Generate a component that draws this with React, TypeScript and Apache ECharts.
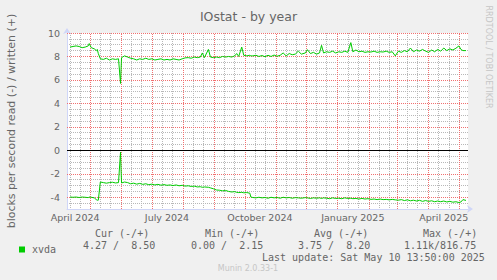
import React, { useEffect, useRef } from 'react';
import * as echarts from 'echarts';

// ---- data ----
const axisStart = '2024-04-08';
const axisEnd = '2025-05-10';

const sampleDates = [
  '2024-04-11', '2024-04-14', '2024-04-17', '2024-04-20', '2024-04-23', '2024-04-26', '2024-04-29', '2024-04-30',
  '2024-05-02', '2024-05-05', '2024-05-07', '2024-05-08', '2024-05-09', '2024-05-11', '2024-05-14', '2024-05-17',
  '2024-05-20', '2024-05-23', '2024-05-26', '2024-05-29', '2024-05-31', '2024-06-01', '2024-06-04', '2024-06-07',
  '2024-06-10', '2024-06-13', '2024-06-16', '2024-06-19', '2024-06-22', '2024-06-25', '2024-06-28', '2024-07-01',
  '2024-07-04', '2024-07-07', '2024-07-10', '2024-07-13', '2024-07-16', '2024-07-19', '2024-07-22', '2024-07-25',
  '2024-07-28', '2024-07-31', '2024-08-03', '2024-08-06', '2024-08-09', '2024-08-12', '2024-08-15', '2024-08-18',
  '2024-08-20', '2024-08-22', '2024-08-26', '2024-08-28', '2024-08-31', '2024-09-03', '2024-09-06', '2024-09-09',
  '2024-09-12', '2024-09-15', '2024-09-18', '2024-09-21', '2024-09-23', '2024-09-25', '2024-09-28', '2024-09-30',
  '2024-10-03', '2024-10-06', '2024-10-07', '2024-10-09', '2024-10-12', '2024-10-15', '2024-10-18', '2024-10-21',
  '2024-10-24', '2024-10-27', '2024-10-30', '2024-11-02', '2024-11-05', '2024-11-08', '2024-11-11', '2024-11-14',
  '2024-11-17', '2024-11-20', '2024-11-23', '2024-11-26', '2024-11-30', '2024-12-02', '2024-12-05', '2024-12-08',
  '2024-12-11', '2024-12-14', '2024-12-16', '2024-12-18', '2024-12-21', '2024-12-24', '2024-12-27', '2024-12-30',
  '2025-01-02', '2025-01-05', '2025-01-08', '2025-01-11', '2025-01-14', '2025-01-16', '2025-01-19', '2025-01-22',
  '2025-01-25', '2025-01-28', '2025-01-31', '2025-02-03', '2025-02-06', '2025-02-09', '2025-02-12', '2025-02-15',
  '2025-02-18', '2025-02-21', '2025-02-24', '2025-02-27', '2025-03-02', '2025-03-05', '2025-03-08', '2025-03-11',
  '2025-03-14', '2025-03-17', '2025-03-20', '2025-03-23', '2025-03-26', '2025-03-29', '2025-04-01', '2025-04-04',
  '2025-04-07', '2025-04-10', '2025-04-13', '2025-04-16', '2025-04-19', '2025-04-22', '2025-04-25', '2025-04-28',
  '2025-05-01', '2025-05-03', '2025-05-05', '2025-05-08',
];

// blocks per second written (+)
const writtenValues = [
  8.8, 8.85, 8.9, 8.85, 8.75, 8.8, 8.9, 9.1,
  8.75, 8.65, 8.5, 8.6, 8.25, 7.8, 7.75, 7.85,
  7.7, 7.8, 7.75, 7.8, 5.7, 7.9, 8.05, 7.95,
  7.85, 7.8, 7.7, 7.8, 7.75, 7.85, 7.75, 7.8,
  7.7, 7.75, 7.8, 7.7, 7.75, 7.7, 7.8, 7.75,
  7.7, 7.8, 7.88, 7.9, 7.85, 7.95, 7.9, 7.95,
  8.3, 7.9, 8.6, 7.95, 7.9, 7.95, 7.9, 8.0,
  7.95, 8.0, 7.95, 8.05, 8.25, 8.0, 8.8, 8.1,
  8.05, 8.1, 8.05, 8.05, 8.1, 8.0, 8.08, 7.98,
  8.1, 8.0, 8.12, 8.02, 8.1, 8.3, 8.05, 8.25,
  8.15, 8.2, 8.45, 8.2, 8.3, 8.58, 8.25, 8.35,
  8.2, 8.3, 8.95, 8.3, 8.4, 8.35, 8.45, 8.3,
  8.4, 8.35, 8.45, 8.35, 9.18, 8.4, 8.55, 8.4,
  8.45, 8.35, 8.4, 8.38, 8.45, 8.35, 8.4, 8.38,
  8.45, 8.35, 8.4, 8.05, 8.45, 8.35, 8.5, 8.4,
  8.72, 8.4, 8.55, 8.45, 8.6, 8.45, 8.35, 8.55,
  8.4, 8.6, 8.45, 8.72, 8.5, 8.65, 8.55, 8.7,
  8.9, 8.6, 8.5, 8.5,
];

// blocks per second read (-), drawn below zero
const readValues = [
  3.98, 4.0, 3.98, 4.02, 3.98, 4.0, 4.03, 3.98,
  4.0, 4.05, 4.2, 4.25, 4.25, 2.7, 2.75, 2.8,
  2.75, 2.72, 2.78, 2.75, 0.15, 2.78, 2.7, 2.75,
  2.85, 2.8, 2.88, 2.82, 2.9, 2.85, 2.93, 2.88,
  2.95, 2.9, 2.97, 2.92, 2.98, 2.95, 3.0, 2.95,
  3.02, 2.98, 3.05, 3.02, 3.08, 3.05, 3.12, 3.1,
  3.15, 3.12, 3.15, 3.2, 3.28, 3.38, 3.4, 3.45,
  3.42, 3.5, 3.55, 3.52, 3.58, 3.6, 3.58, 3.62,
  3.6, 3.65, 3.98, 4.02, 4.05, 4.0, 4.05, 4.02,
  4.08, 4.0, 4.05, 4.02, 4.08, 4.0, 4.05, 4.02,
  4.08, 4.03, 4.05, 4.08, 4.03, 4.05, 4.1, 4.05,
  4.08, 4.05, 4.1, 4.05, 4.08, 4.12, 4.05, 4.1,
  4.08, 4.12, 4.05, 4.1, 4.08, 4.12, 4.1, 4.15,
  4.1, 4.15, 4.12, 4.18, 4.15, 4.2, 4.15, 4.2,
  4.18, 4.22, 4.18, 4.22, 4.25, 4.2, 4.28, 4.22,
  4.3, 4.25, 4.32, 4.26, 4.35, 4.28, 4.35, 4.3,
  4.38, 4.32, 4.38, 4.32, 4.4, 4.35, 4.42, 4.38,
  4.45, 4.4, 4.2, 4.27,
];

const monthNames = ['January', 'February', 'March', 'April', 'May', 'June', 'July',
  'August', 'September', 'October', 'November', 'December'];
const labelMonths = ['01', '04', '07', '10'];
const labelDay = '16';
const minorGridDays = ['11', '21'];
const majorYValues = [-4, -2, 2, 4, 6, 8, 10];

const titleText = 'IOstat - by year';
const yAxisTitle = 'blocks per second read (-) / written (+)';
const seriesName = 'xvda';
const statHeaders = ['Cur (-/+)', 'Min (-/+)', 'Avg (-/+)', 'Max (-/+)'];
const statRead = ['4.27', '0.00', '3.75', '1.11k'];
const statWritten = ['8.50', '2.15', '8.20', '816.75'];
const lastUpdate = 'Last update: Sat May 10 13:50:00 2025';
const watermark = 'RRDTOOL / TOBI OETIKER';
const versionText = 'Munin 2.0.33-1';

function buildDays(start: string, end: string): string[] {
  const out: string[] = [];
  const s = Date.parse(start + 'T00:00:00Z');
  const e = Date.parse(end + 'T00:00:00Z');
  for (let t = s; t <= e; t += 86400000) out.push(new Date(t).toISOString().slice(0, 10));
  return out;
}

export default function App() {
  const ref = useRef<HTMLDivElement>(null);

  useEffect(() => {
    document.body.style.margin = '0';
    if (!ref.current) return;
    const chart = echarts.init(ref.current, undefined, { renderer: 'svg' });

    const days = buildDays(axisStart, axisEnd);
    const idx = new Map<string, number>();
    days.forEach((d, i) => idx.set(d, i));
    const writtenData = sampleDates.map((d, i) => [idx.get(d), writtenValues[i]]);
    const readData = sampleDates.map((d, i) => [idx.get(d), -readValues[i]]);
    const monthStarts = days.filter((d) => d.slice(8, 10) === '01');

    const textColor = '#666666';
    const axisColor = '#CFD6F8';
    const mono = 'DejaVu Sans Mono';
    const sans = 'DejaVu Sans';
    const cw = 6.02;
    const majorColor = '#f07070';
    const minorColor = '#b8b8b8';
    const dots = [1, 1];

    const colX = [83, 191, 298, 404];
    const headX = [95, 205, 314, 423];
    const graphics: any[] = [
      {
        type: 'text', x: 11, y: 121, rotation: Math.PI / 2, silent: true,
        style: { text: yAxisTitle, fontSize: 11, fontFamily: sans, fill: textColor, align: 'center', verticalAlign: 'middle' },
      },
      {
        type: 'text', x: 488, y: 57, rotation: -Math.PI / 2, silent: true,
        style: { text: watermark, fontSize: 8, fontFamily: sans, fill: '#c6c6c6', align: 'center', verticalAlign: 'middle' },
      },
      {
        type: 'text', x: 262, y: 257.5, silent: true,
        style: { text: lastUpdate, fontSize: 10, fontFamily: mono, fill: textColor, align: 'left', verticalAlign: 'middle' },
      },
      {
        type: 'text', x: 248, y: 268.5, silent: true,
        style: { text: versionText, fontSize: 8, fontFamily: sans, fill: '#c6c6c6', align: 'center', verticalAlign: 'middle' },
      },
    ];
    statHeaders.forEach((h, i) => {
      graphics.push({
        type: 'text', x: headX[i], y: 233.5, silent: true,
        style: { text: h, fontSize: 10, fontFamily: mono, fill: textColor, align: 'left', verticalAlign: 'middle' },
      });
    });
    statRead.forEach((r, i) => {
      graphics.push({
        type: 'text', x: colX[i], y: 245.5, silent: true,
        style: { text: r, fontSize: 10, fontFamily: mono, fill: textColor, align: 'left', verticalAlign: 'middle' },
      });
      graphics.push({
        type: 'text', x: colX[i] + 5 * cw, y: 245.5, silent: true,
        style: { text: '/', fontSize: 10, fontFamily: mono, fill: textColor, align: 'left', verticalAlign: 'middle' },
      });
      graphics.push({
        type: 'text', x: colX[i] + 12 * cw, y: 245.5, silent: true,
        style: { text: statWritten[i], fontSize: 10, fontFamily: mono, fill: textColor, align: 'right', verticalAlign: 'middle' },
      });
    });

    const majorLines = [
      ...monthStarts.map((d) => ({ xAxis: d })),
      ...majorYValues.map((v) => ({ yAxis: v })),
    ];

    const option: any = {
      animation: false,
      backgroundColor: '#f0f0f0',
      title: {
        text: titleText,
        left: 'center',
        top: 5,
        textStyle: { fontSize: 12.5, fontWeight: 'normal', color: textColor, fontFamily: sans },
      },
      legend: {
        data: [seriesName],
        left: 14,
        top: 239.5,
        icon: 'rect',
        itemWidth: 6,
        itemHeight: 6,
        selectedMode: false,
        textStyle: { fontSize: 10, fontFamily: mono, color: textColor, padding: [0, 0, 0, 2] },
      },
      grid: {
        left: 67, top: 33, width: 401, height: 176,
        show: true, backgroundColor: '#ffffff', borderWidth: 0,
      },
      xAxis: [
        {
          type: 'category',
          data: days,
          boundaryGap: false,
          axisLine: {
            onZero: false,
            lineStyle: { color: axisColor, width: 1 },
            symbol: ['none', 'arrow'], symbolSize: [6, 6], symbolOffset: [0, 5],
          },
          axisTick: { show: false },
          axisLabel: {
            interval: (_i: number, v: string) => v.slice(8, 10) === labelDay && labelMonths.includes(v.slice(5, 7)),
            formatter: (v: string) => monthNames[parseInt(v.slice(5, 7), 10) - 1] + ' ' + v.slice(0, 4),
            fontSize: 9.5, fontFamily: sans, color: textColor, margin: 3,
          },
          splitLine: { show: false },
        },
        {
          type: 'category',
          data: days,
          boundaryGap: false,
          axisLine: { show: false, onZero: false },
          axisTick: { show: false },
          axisLabel: { show: false },
          splitLine: {
            show: true,
            interval: (_i: number, v: string) => minorGridDays.includes(v.slice(8, 10)),
            lineStyle: { color: minorColor, width: 1, type: dots },
          },
        },
      ],
      yAxis: {
        type: 'value',
        min: -5,
        max: 10,
        interval: 1,
        axisLine: {
          show: true,
          lineStyle: { color: axisColor, width: 1 },
          symbol: ['none', 'arrow'], symbolSize: [6, 6], symbolOffset: [0, 5],
        },
        axisTick: { show: false },
        axisLabel: {
          formatter: (v: number) => (v % 2 === 0 ? String(v) : ''),
          fontSize: 9.5, fontFamily: sans, color: textColor, margin: 7,
        },
        splitLine: {
          show: true,
          lineStyle: { color: minorColor, width: 1, type: dots },
        },
        minorTick: { show: false, splitNumber: 2 },
        minorSplitLine: {
          show: true,
          lineStyle: { color: minorColor, width: 1, type: dots },
        },
      },
      series: [
        {
          name: seriesName,
          type: 'line',
          xAxisIndex: 0,
          data: readData,
          showSymbol: false,
          symbol: 'none',
          z: 3,
          lineStyle: { color: '#00cc00', width: 1 },
          itemStyle: { color: '#00cc00' },
          markLine: {
            silent: true,
            symbol: 'none',
            label: { show: false },
            lineStyle: { color: '#000000', width: 1, type: 'solid' },
            data: [{ yAxis: 0 }],
          },
        },
        {
          name: seriesName,
          type: 'line',
          xAxisIndex: 0,
          data: writtenData,
          showSymbol: false,
          symbol: 'none',
          z: 3,
          lineStyle: { color: '#00cc00', width: 1 },
          itemStyle: { color: '#00cc00' },
          markLine: {
            silent: true,
            symbol: 'none',
            z: 1,
            label: { show: false },
            emphasis: { disabled: true },
            lineStyle: { color: majorColor, width: 1, type: dots, opacity: 1 },
            data: majorLines,
          },
        },
      ],
      graphic: graphics,
    };

    chart.setOption(option);
    return () => chart.dispose();
  }, []);

  return <div ref={ref} style={{ width: 497, height: 280 }} />;
}
